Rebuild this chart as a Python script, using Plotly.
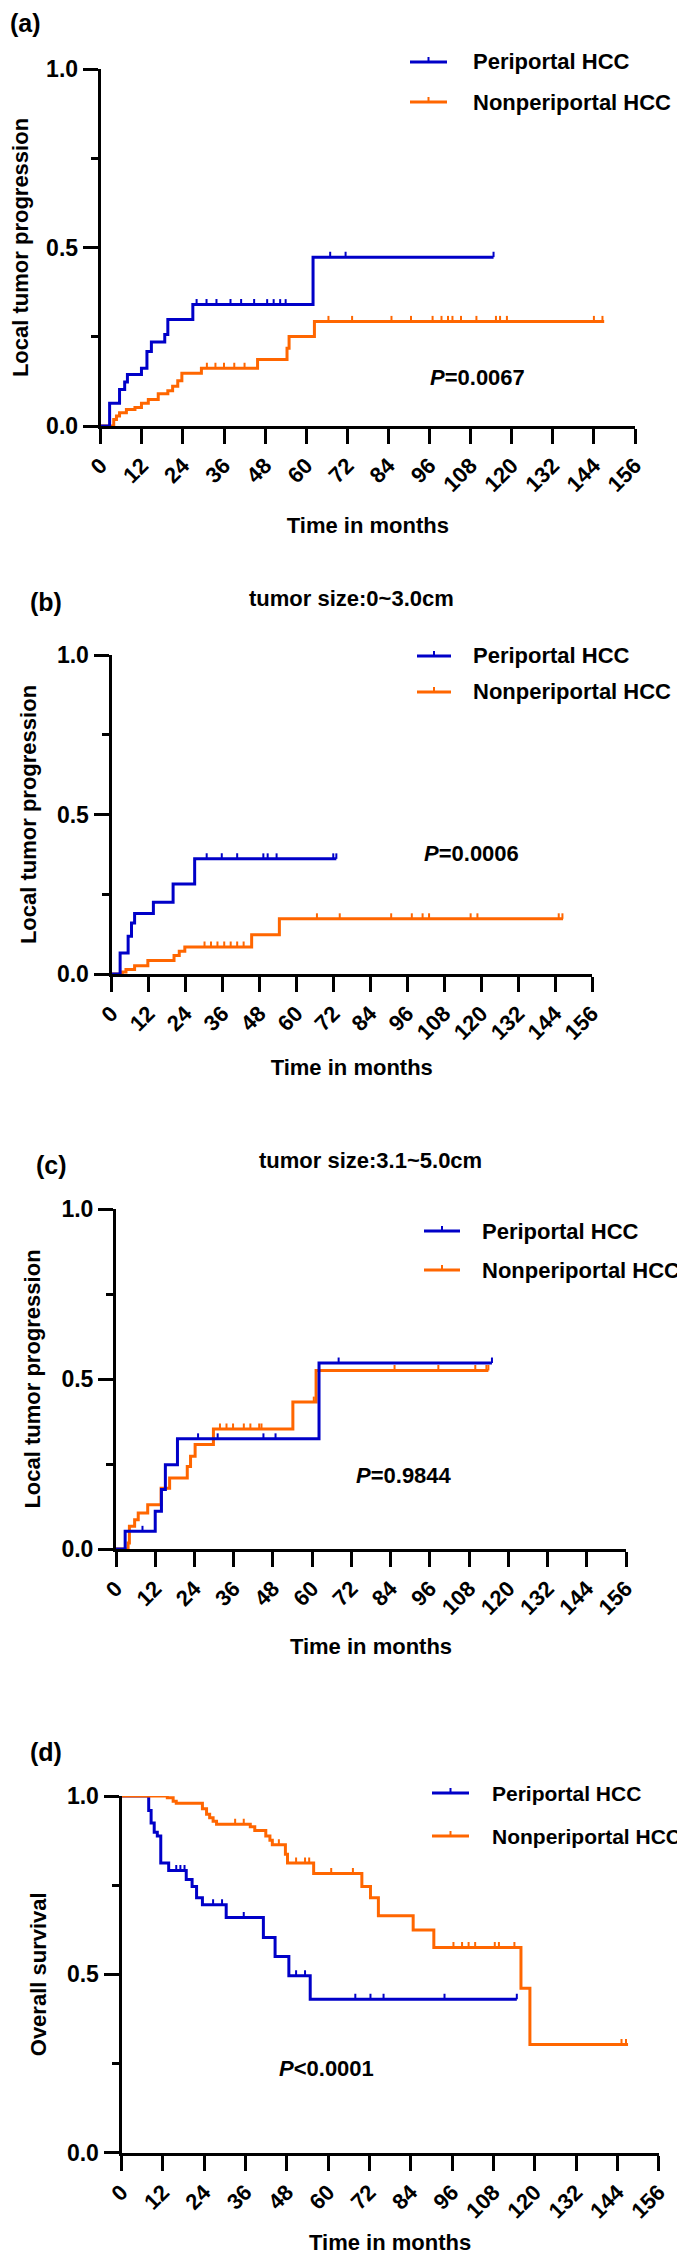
import plotly.graph_objects as go

# ------------------------------------------------------------------ data
MONTH_TICKS = list(range(0, 157, 12))
Y_TICKS = [0.0, 0.5, 1.0]
Y_TICK_TEXT = ["0.0", "0.5", "1.0"]
Y_MINOR = [0.25, 0.75]
GROUPS = ["Periportal HCC", "Nonperiportal HCC"]

# (a) local tumor progression, all
a_peri_t = [0, 2.6, 5.5, 7.0, 7.8, 11.9, 13.5, 14.8, 18.7, 19.6, 26.9, 62.0, 114.7]
a_peri_y = [0, 0.064, 0.102, 0.123, 0.144, 0.162, 0.209, 0.235, 0.256, 0.298, 0.340, 0.473, 0.473]
a_peri_cens = [28, 30.9, 33.8, 37.9, 41, 44.8, 48.6, 50.5, 52.4, 54, 67, 71.5, 114.7]
a_non_t = [0, 3.8, 4.6, 5.5, 7.5, 10, 11.9, 13.9, 16.8, 19.6, 21, 22.5, 23.7, 29.4, 45.8, 54.4, 55, 62.4, 147]
a_non_y = [0, 0.018, 0.028, 0.037, 0.046, 0.052, 0.064, 0.074, 0.09, 0.099, 0.111, 0.127, 0.148, 0.162,
           0.186, 0.218, 0.251, 0.293, 0.293]
a_non_cens = [31, 33.5, 36, 39, 42, 66.5, 73.4, 84.9, 90.6, 96.9, 99.5, 101.4, 102.7, 105.2, 109.7,
              115.4, 116.6, 118.6, 144, 146.5]

# (b) tumor size 0~3.0 cm
b_peri_t = [0, 2.8, 5.4, 6.5, 7.5, 13.6, 20.0, 27.0, 73.0]
b_peri_y = [0, 0.066, 0.118, 0.160, 0.190, 0.225, 0.282, 0.361, 0.361]
b_peri_cens = [30.9, 35.8, 40.8, 49.3, 50.7, 53.6, 72, 73]
b_non_t = [0, 3.5, 4.7, 7.5, 11.8, 20.3, 22.0, 23.8, 45.5, 54.5, 146.6]
b_non_y = [0, 0.006, 0.014, 0.026, 0.042, 0.058, 0.071, 0.085, 0.123, 0.173, 0.173]
b_non_cens = [30.2, 32.3, 34.4, 36.6, 38.7, 40.8, 42.9, 66.7, 74.1, 90.8, 97.5, 101, 103.1, 116.6,
              118.8, 145.2, 146.4]

# (c) tumor size 3.1~5.0 cm
c_peri_t = [0, 2.8, 12.0, 13.9, 15.1, 18.8, 62.1, 115.0]
c_peri_y = [0, 0.052, 0.111, 0.175, 0.248, 0.324, 0.547, 0.547]
c_peri_cens = [8.1, 25.1, 31.1, 45.1, 48.8, 68.1, 115]
c_non_t = [0, 3.7, 4.1, 5.7, 6.8, 9.7, 13.8, 16.4, 21.8, 22.8, 24.2, 29.8, 54.1, 61.2, 113.9]
c_non_y = [0, 0.018, 0.067, 0.086, 0.106, 0.13, 0.179, 0.209, 0.243, 0.273, 0.307, 0.353, 0.432,
           0.525, 0.525]
c_non_cens = [31.8, 33.8, 35.8, 39.1, 41.1, 43.8, 44.5, 60.5, 85.2, 98.6, 109.9, 113.3, 113.9]

# (d) overall survival
d_peri_t = [0, 7.9, 8.6, 9.5, 10.4, 11.4, 13.7, 18.8, 20.5, 21.8, 23.5, 30.4, 41.2, 44.6, 48.6, 54.8, 114.8]
d_peri_y = [1, 0.959, 0.924, 0.898, 0.888, 0.812, 0.791, 0.766, 0.746, 0.715, 0.695, 0.659, 0.603,
            0.55, 0.496, 0.43, 0.43]
d_peri_cens = [5.1, 15.9, 17.1, 18.3, 26.6, 29.2, 35.5, 50.7, 53.3, 67.9, 72.3, 76.1, 93.8, 114.8]
d_non_t = [0, 13.3, 15.0, 15.9, 23.5, 24.7, 25.6, 26.6, 27.6, 37.4, 38.7, 41.9, 43.1, 43.8, 47.6, 48.2,
           55.8, 69.8, 72.3, 74.6, 84.7, 90.7, 116.0, 118.6, 147.1]
d_non_y = [1, 0.995, 0.985, 0.98, 0.964, 0.949, 0.939, 0.929, 0.921, 0.914, 0.903, 0.888, 0.876, 0.863,
           0.837, 0.812, 0.783, 0.746, 0.715, 0.664, 0.624, 0.575, 0.461, 0.303, 0.303]
d_non_cens = [2.5, 5.1, 8.9, 10.1, 33, 35.5, 45.7, 50.7, 53.3, 54.5, 60.9, 67.2, 96.4, 98.9, 100.8,
              102.7, 108.4, 109.6, 114.1, 145.2, 146.5]

P_TEXTS = ["=0.0067", "=0.0006", "=0.9844", "<0.0001"]
P_POS = [(110, 0.135), (117, 0.379), (88, 0.215), (59.4, 0.237)]
PANEL_LABELS = ["(a)", "(b)", "(c)", "(d)"]
SUBTITLES = ["", "tumor size:0~3.0cm", "tumor size:3.1~5.0cm", ""]
Y_TITLES = ["Local tumor progression", "Local tumor progression", "Local tumor progression",
            "Overall survival"]
X_TITLE = "Time in months"

# ------------------------------------------------------------------ style / layout
W, H = 685, 2259
BLUE = "#0000c8"
ORANGE = "#ff6600"
FONT = "Liberation Sans, Arial, Helvetica, sans-serif"


def px(x):
    return x / W


def py(y):
    return 1 - y / H


# pixel boxes: (x_left, x_right, y_top(1.0), y_bottom(0.0))
BOXES = [(92.7, 627.0, 61.0, 418.0),
         (103.5, 584.0, 647.0, 966.0),
         (108.0, 618.0, 1201.0, 1541.0),
         (113.5, 650.7, 1788.0, 2144.6)]
X_STANDOFF = [22, 16, 20, 13]
LABEL_POS = [(0, 15), (20, 594), (26, 1157), (20, 1744)]
SUB_POS = [None, (343, 590), (362, 1152), None]
LEG = [dict(x0=402, x1=439, tx=463, ys=(54, 94)),
       dict(x0=409, x1=443, tx=463, ys=(648, 684)),
       dict(x0=416, x1=452, tx=472, ys=(1223, 1262)),
       dict(x0=424, x1=461, tx=482, ys=(1785, 1828))]
LEG_SIZE = [22, 22, 22, 21]
DRAW_ORDER = [(1, 0), (1, 0), (1, 0), (0, 1)]  # 0 = peri, 1 = non
CENSOR_PX = 5.5  # height of censor tick above the curve centre, pixels

SERIES = [
    [(a_peri_t, a_peri_y, a_peri_cens), (a_non_t, a_non_y, a_non_cens)],
    [(b_peri_t, b_peri_y, b_peri_cens), (b_non_t, b_non_y, b_non_cens)],
    [(c_peri_t, c_peri_y, c_peri_cens), (c_non_t, c_non_y, c_non_cens)],
    [(d_peri_t, d_peri_y, d_peri_cens), (d_non_t, d_non_y, d_non_cens)],
]
COLORS = [BLUE, ORANGE]


def step_value(ts, ys, t):
    v = ys[0]
    for ti, yi in zip(ts, ys):
        if ti <= t:
            v = yi
    return v


fig = go.Figure()
annotations = []
shapes = []
layout_axes = {}

for i in range(4):
    n = "" if i == 0 else str(i + 1)
    xa, ya = "x" + n, "y" + n
    xl, xr, yt, yb = BOXES[i]
    tick_data = CENSOR_PX / (yb - yt)

    for k in DRAW_ORDER[i]:
        ts, ys, cens = SERIES[i][k]
        fig.add_trace(go.Scatter(
            x=ts, y=ys, mode="lines", line=dict(color=COLORS[k], width=3, shape="hv"),
            name=GROUPS[k], showlegend=False, xaxis=xa, yaxis=ya, hoverinfo="skip"))
        fig.add_trace(go.Scatter(
            x=cens, y=[step_value(ts, ys, c) for c in cens], mode="markers",
            marker=dict(size=0.1, color=COLORS[k], opacity=0),
            error_y=dict(type="constant", symmetric=False, value=tick_data, valueminus=0,
                         color=COLORS[k], thickness=2, width=0),
            name=GROUPS[k] + " censored", showlegend=False, xaxis=xa, yaxis=ya,
            hoverinfo="skip", cliponaxis=False))

    layout_axes["xaxis" + n] = dict(
        domain=[px(xl), px(xr)], anchor=ya, range=[0, 156], tickvals=MONTH_TICKS,
        ticks="outside", ticklen=15, tickwidth=3, tickcolor="black", tickangle=-45,
        tickfont=dict(family=FONT, size=22, color="black", weight="bold"),
        showline=True, linewidth=3, linecolor="black", showgrid=False, zeroline=False,
        automargin=False, fixedrange=True,
        title=dict(text=X_TITLE, standoff=X_STANDOFF[i],
                   font=dict(family=FONT, size=22, color="black", weight="bold")))
    layout_axes["yaxis" + n] = dict(
        domain=[py(yb), py(yt)], anchor=xa, range=[0, 1], tickvals=Y_TICKS, ticktext=Y_TICK_TEXT,
        ticks="outside", ticklen=15, tickwidth=3, tickcolor="black",
        tickfont=dict(family=FONT, size=23, color="black", weight="bold"),
        minor=dict(tickvals=Y_MINOR, ticks="outside", ticklen=7, tickwidth=3, tickcolor="black",
                   showgrid=False),
        showline=True, linewidth=3, linecolor="black", showgrid=False, zeroline=False,
        automargin=False, fixedrange=True,
        title=dict(text=Y_TITLES[i], standoff=15,
                   font=dict(family=FONT, size=22, color="black", weight="bold")))

    # P value
    annotations.append(dict(
        x=P_POS[i][0], y=P_POS[i][1], xref=xa, yref=ya, showarrow=False,
        text="<b><i>P</i>" + P_TEXTS[i] + "</b>", font=dict(family=FONT, size=22, color="black")))
    # panel label
    lx, ly = LABEL_POS[i]
    annotations.append(dict(
        x=px(lx), y=py(ly), xref="paper", yref="paper", xanchor="left", yanchor="middle",
        showarrow=False, text="<b>" + PANEL_LABELS[i] + "</b>",
        font=dict(family=FONT, size=25, color="black")))
    # subtitle
    if SUB_POS[i]:
        sx, sy = SUB_POS[i]
        annotations.append(dict(
            x=px(sx), y=py(sy), xref="paper", yref="paper", xanchor="center", yanchor="middle",
            showarrow=False, text="<b>" + SUBTITLES[i] + "</b>",
            font=dict(family=FONT, size=22, color="black")))
    # legend (manual)
    lg = LEG[i]
    for k in range(2):
        yy = lg["ys"][k]
        shapes.append(dict(type="line", xref="paper", yref="paper",
                           x0=px(lg["x0"]), x1=px(lg["x1"]), y0=py(yy), y1=py(yy),
                           line=dict(color=COLORS[k], width=3)))
        xm = (lg["x0"] + lg["x1"]) / 2
        shapes.append(dict(type="line", xref="paper", yref="paper",
                           x0=px(xm), x1=px(xm), y0=py(yy), y1=py(yy - 5),
                           line=dict(color=COLORS[k], width=2)))
        annotations.append(dict(
            x=px(lg["tx"]), y=py(yy), xref="paper", yref="paper", xanchor="left",
            yanchor="middle", showarrow=False, text="<b>" + GROUPS[k] + "</b>",
            font=dict(family=FONT, size=LEG_SIZE[i], color="black")))

fig.update_layout(
    width=W, height=H, margin=dict(l=0, r=0, t=0, b=0),
    paper_bgcolor="white", plot_bgcolor="white",
    font=dict(family=FONT, color="black"),
    showlegend=False, annotations=annotations, shapes=shapes, **layout_axes)

fig.write_html("out.html", config={"displayModeBar": False})
